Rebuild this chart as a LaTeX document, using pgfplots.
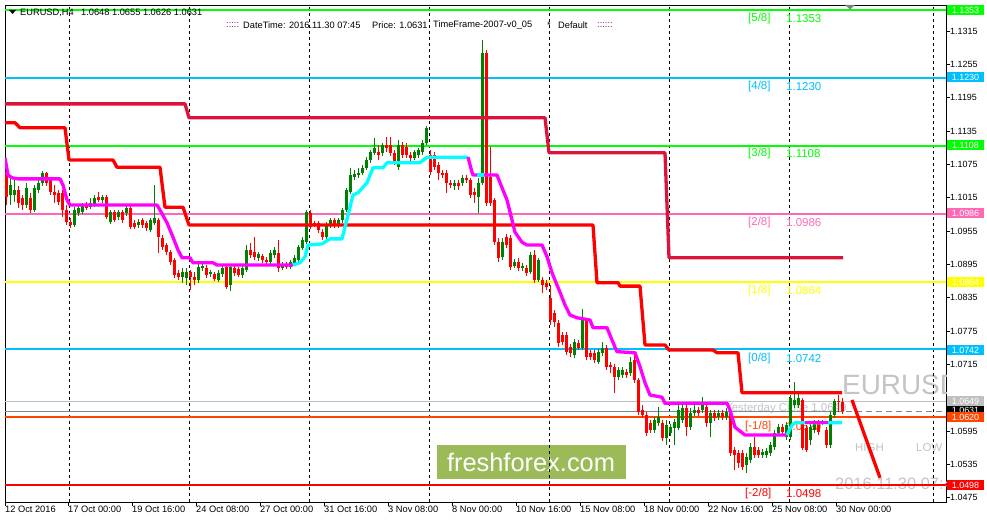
\documentclass[border=0pt]{standalone}
\usepackage{fontspec}
\setmainfont{Liberation Sans}
\usepackage{pgfplots}
\usepackage{pgfplotstable}
\pgfplotsset{compat=1.18}

\definecolor{lvlgreen}{HTML}{00FF00}
\definecolor{lvlblue}{HTML}{00BFFF}
\definecolor{lvlpink}{HTML}{FF69B4}
\definecolor{lvlyellow}{HTML}{FFFF00}
\definecolor{lvlorange}{HTML}{FF4500}
\definecolor{lvlred}{HTML}{FF0000}
\definecolor{crimson}{HTML}{DC143C}
\definecolor{upgreen}{HTML}{008000}
\definecolor{downred}{HTML}{FF0000}
\definecolor{trmag}{HTML}{FF00FF}
\definecolor{trcyan}{HTML}{00FFFF}
\definecolor{ycgray}{HTML}{C0C0C0}
\definecolor{slate}{HTML}{778899}
\definecolor{wmgray}{HTML}{C4C4C4}
\definecolor{logo}{HTML}{9BBB59}
\definecolor{dots}{HTML}{800080}

\newcommand\fs[1]{\fontsize{#1}{#1}\selectfont}

% EURUSD H4 bars: index, open, high, low, close
\pgfplotstableread{
k o h l c
0 1.1061 1.1074 1.1002 1.1016
1 1.1020 1.1051 1.1002 1.1038
2 1.1020 1.1047 1.1007 1.1029
3 1.1029 1.1036 1.0997 1.1006
4 1.1015 1.1020 1.0993 1.1002
5 1.1002 1.1042 1.0997 1.1033
6 1.1015 1.1024 1.0988 1.0993
7 1.0993 1.1038 1.0989 1.1033
8 1.1029 1.1047 1.1024 1.1042
9 1.1042 1.1063 1.1036 1.1060
10 1.1060 1.1061 1.1036 1.1042
11 1.1047 1.1051 1.1020 1.1025
12 1.1025 1.1038 1.1006 1.1020
13 1.1024 1.1029 1.1002 1.1007
14 1.1024 1.1029 1.0980 1.0993
15 1.0993 1.1002 1.0966 1.0971
16 1.0971 1.0979 1.0961 1.0966
17 1.0966 1.0998 1.0962 1.0993
18 1.0988 1.1002 1.0982 1.0997
19 1.0989 1.1006 1.0986 1.1002
20 1.1004 1.1007 1.0993 1.0997
21 1.0998 1.1015 1.0995 1.1006
22 1.1002 1.1020 1.0998 1.1015
23 1.1016 1.1025 1.1007 1.1011
24 1.1011 1.1020 1.1006 1.1016
25 1.1016 1.1020 1.0977 1.0980
26 1.0971 1.0993 1.0968 1.0989
27 1.0989 1.0993 1.0971 1.0975
28 1.0980 1.0993 1.0975 1.0989
29 1.0989 1.0993 1.0970 1.0975
30 1.0988 1.1000 1.0982 1.0997
31 1.0997 1.1000 1.0959 1.0962
32 1.0970 1.0975 1.0959 1.0962
33 1.0966 1.0977 1.0961 1.0971
34 1.0975 1.0979 1.0961 1.0966
35 1.0970 1.0973 1.0955 1.0961
36 1.0957 1.0979 1.0953 1.0975
37 1.0970 1.1038 1.0966 1.0979
38 1.0975 1.0979 1.0916 1.0944
39 1.0943 1.0948 1.0921 1.0927
40 1.0930 1.0934 1.0912 1.0917
41 1.0917 1.0921 1.0894 1.0899
42 1.0903 1.0907 1.0871 1.0876
43 1.0880 1.0885 1.0867 1.0873
44 1.0873 1.0889 1.0862 1.0881
45 1.0871 1.0889 1.0858 1.0881
46 1.0881 1.0885 1.0849 1.0873
47 1.0873 1.0881 1.0858 1.0867
48 1.0867 1.0898 1.0862 1.0891
49 1.0889 1.0898 1.0883 1.0892
50 1.0889 1.0894 1.0871 1.0876
51 1.0878 1.0885 1.0873 1.0881
52 1.0878 1.0881 1.0865 1.0869
53 1.0867 1.0885 1.0863 1.0880
54 1.0878 1.0894 1.0873 1.0889
55 1.0891 1.0894 1.0851 1.0855
56 1.0858 1.0894 1.0847 1.0891
57 1.0889 1.0894 1.0874 1.0880
58 1.0887 1.0891 1.0873 1.0876
59 1.0876 1.0894 1.0871 1.0889
60 1.0885 1.0930 1.0881 1.0921
61 1.0921 1.0934 1.0907 1.0912
62 1.0917 1.0944 1.0903 1.0909
63 1.0907 1.0917 1.0901 1.0914
64 1.0910 1.0914 1.0898 1.0903
65 1.0903 1.0909 1.0896 1.0899
66 1.0899 1.0921 1.0896 1.0916
67 1.0912 1.0927 1.0907 1.0921
68 1.0916 1.0939 1.0881 1.0889
69 1.0889 1.0899 1.0885 1.0894
70 1.0894 1.0899 1.0887 1.0891
71 1.0891 1.0903 1.0887 1.0899
72 1.0898 1.0912 1.0892 1.0907
73 1.0903 1.0930 1.0899 1.0927
74 1.0925 1.0944 1.0921 1.0939
75 1.0935 1.0993 1.0932 1.0989
76 1.0988 1.0993 1.0959 1.0962
77 1.0970 1.0973 1.0962 1.0966
78 1.0970 1.0973 1.0952 1.0957
79 1.0953 1.0959 1.0939 1.0944
80 1.0944 1.0971 1.0941 1.0966
81 1.0966 1.0979 1.0961 1.0975
82 1.0975 1.0979 1.0961 1.0964
83 1.0966 1.0979 1.0961 1.0975
84 1.0975 1.0997 1.0970 1.0993
85 1.0993 1.1033 1.0989 1.1029
86 1.1025 1.1069 1.1022 1.1056
87 1.1052 1.1065 1.1047 1.1058
88 1.1056 1.1069 1.1051 1.1060
89 1.1060 1.1074 1.1056 1.1069
90 1.1069 1.1088 1.1065 1.1083
91 1.1083 1.1101 1.1078 1.1097
92 1.1096 1.1123 1.1092 1.1105
93 1.1097 1.1110 1.1083 1.1092
94 1.1096 1.1114 1.1090 1.1110
95 1.1110 1.1124 1.1097 1.1105
96 1.1110 1.1124 1.1090 1.1096
97 1.1096 1.1101 1.1074 1.1079
98 1.1070 1.1119 1.1065 1.1110
99 1.1110 1.1115 1.1087 1.1092
100 1.1106 1.1114 1.1087 1.1092
101 1.1092 1.1097 1.1081 1.1087
102 1.1087 1.1101 1.1083 1.1097
103 1.1092 1.1105 1.1087 1.1101
104 1.1097 1.1119 1.1092 1.1114
105 1.1114 1.1144 1.1110 1.1141
106 1.1092 1.1101 1.1056 1.1061
107 1.1092 1.1097 1.1065 1.1070
108 1.1074 1.1079 1.1047 1.1060
109 1.1060 1.1065 1.1051 1.1056
110 1.1060 1.1065 1.1024 1.1042
111 1.1042 1.1047 1.1033 1.1038
112 1.1036 1.1047 1.1029 1.1042
113 1.1042 1.1047 1.1029 1.1036
114 1.1042 1.1056 1.1036 1.1051
115 1.1051 1.1056 1.1042 1.1047
116 1.1047 1.1051 1.1015 1.1020
117 1.1025 1.1033 1.1006 1.1020
118 1.1016 1.1051 1.0988 1.1042
119 1.1042 1.1299 1.1038 1.1276
120 1.1276 1.1281 1.1000 1.1006
121 1.1052 1.1106 1.1000 1.1006
122 1.1011 1.1015 1.0930 1.0935
123 1.0935 1.0943 1.0899 1.0907
124 1.0909 1.0943 1.0903 1.0935
125 1.0944 1.0950 1.0925 1.0930
126 1.0943 1.0948 1.0885 1.0891
127 1.0892 1.0905 1.0889 1.0899
128 1.0899 1.0907 1.0883 1.0889
129 1.0889 1.0898 1.0883 1.0892
130 1.0889 1.0894 1.0874 1.0880
131 1.0881 1.0917 1.0878 1.0912
132 1.0912 1.0921 1.0862 1.0867
133 1.0867 1.0907 1.0863 1.0903
134 1.0867 1.0873 1.0844 1.0858
135 1.0862 1.0867 1.0849 1.0855
136 1.0835 1.0858 1.0786 1.0795
137 1.0808 1.0813 1.0782 1.0791
138 1.0790 1.0795 1.0746 1.0754
139 1.0768 1.0773 1.0750 1.0755
140 1.0768 1.0773 1.0732 1.0738
141 1.0746 1.0752 1.0728 1.0736
142 1.0732 1.0761 1.0727 1.0755
143 1.0754 1.0759 1.0741 1.0745
144 1.0745 1.0815 1.0741 1.0795
145 1.0795 1.0799 1.0723 1.0728
146 1.0736 1.0741 1.0723 1.0728
147 1.0736 1.0741 1.0718 1.0723
148 1.0719 1.0743 1.0716 1.0738
149 1.0736 1.0755 1.0730 1.0745
150 1.0745 1.0750 1.0705 1.0711
151 1.0714 1.0719 1.0700 1.0711
152 1.0711 1.0716 1.0664 1.0693
153 1.0693 1.0711 1.0687 1.0705
154 1.0696 1.0711 1.0691 1.0705
155 1.0701 1.0707 1.0691 1.0696
156 1.0700 1.0728 1.0694 1.0719
157 1.0723 1.0732 1.0682 1.0687
158 1.0687 1.0691 1.0624 1.0629
159 1.0633 1.0642 1.0619 1.0624
160 1.0624 1.0629 1.0586 1.0592
161 1.0610 1.0615 1.0592 1.0597
162 1.0597 1.0620 1.0592 1.0615
163 1.0610 1.0638 1.0604 1.0620
164 1.0610 1.0615 1.0577 1.0583
165 1.0583 1.0615 1.0570 1.0606
166 1.0592 1.0608 1.0586 1.0602
167 1.0601 1.0617 1.0570 1.0611
168 1.0601 1.0642 1.0597 1.0633
169 1.0615 1.0642 1.0610 1.0637
170 1.0637 1.0642 1.0586 1.0602
171 1.0602 1.0637 1.0597 1.0627
172 1.0627 1.0642 1.0622 1.0633
173 1.0633 1.0638 1.0622 1.0627
174 1.0633 1.0656 1.0627 1.0645
175 1.0638 1.0644 1.0602 1.0610
176 1.0610 1.0633 1.0584 1.0627
177 1.0627 1.0633 1.0613 1.0619
178 1.0620 1.0633 1.0615 1.0627
179 1.0627 1.0633 1.0615 1.0620
180 1.0620 1.0637 1.0615 1.0629
181 1.0627 1.0633 1.0550 1.0556
182 1.0561 1.0567 1.0525 1.0552
183 1.0556 1.0561 1.0529 1.0538
184 1.0556 1.0561 1.0525 1.0531
185 1.0534 1.0556 1.0520 1.0548
186 1.0543 1.0574 1.0538 1.0567
187 1.0567 1.0584 1.0547 1.0552
188 1.0561 1.0567 1.0547 1.0552
189 1.0552 1.0563 1.0547 1.0557
190 1.0552 1.0565 1.0547 1.0559
191 1.0556 1.0575 1.0550 1.0570
192 1.0567 1.0597 1.0561 1.0592
193 1.0592 1.0608 1.0586 1.0602
194 1.0602 1.0608 1.0588 1.0593
195 1.0584 1.0611 1.0579 1.0606
196 1.0584 1.0660 1.0579 1.0655
197 1.0642 1.0683 1.0637 1.0651
198 1.0642 1.0664 1.0637 1.0655
199 1.0651 1.0655 1.0561 1.0565
200 1.0601 1.0606 1.0557 1.0561
201 1.0579 1.0610 1.0570 1.0602
202 1.0597 1.0615 1.0592 1.0610
203 1.0610 1.0615 1.0588 1.0593
204 1.0610 1.0615 1.0606 1.0611
205 1.0597 1.0602 1.0565 1.0570
206 1.0570 1.0629 1.0565 1.0624
207 1.0624 1.0653 1.0619 1.0649
208 1.0650 1.0660 1.0630 1.0648
209 1.0648 1.0655 1.0626 1.0631
}\candles

\begin{document}
\begin{tikzpicture}
\useasboundingbox (0,0) rectangle (987bp,525bp);
\fill[white] (0,0) rectangle (987bp,525bp);

\begin{axis}[
  at={(5bp,23bp)}, anchor=south west,
  scale only axis, width=941bp, height=497bp,
  xmin=-0.3, xmax=234.95, ymin=1.04674, ymax=1.1362,
  axis line style={black, line width=0.8bp},
  tick align=outside, major tick length=4bp,
  tick style={black, line width=0.6bp},
  xtick pos=left, ytick pos=right, yticklabel pos=right,
  scaled y ticks=false, scaled x ticks=false,
  xtick={-0.3,15.45,31.45,47.45,63.45,79.45,95.45,111.45,127.45,143.45,159.45,175.45,191.45,207.45},
  xticklabels={12 Oct 2016,17 Oct 00:00,19 Oct 16:00,24 Oct 08:00,27 Oct 00:00,31 Oct 16:00,3 Nov 08:00,8 Nov 00:00,10 Nov 16:00,15 Nov 08:00,18 Nov 00:00,22 Nov 16:00,25 Nov 08:00,30 Nov 00:00},
  xticklabel style={anchor=north west, inner sep=0pt, font=\fs{9.3}},
  ytick={1.0475,1.0535,1.0595,1.0655,1.0715,1.0775,1.0835,1.0895,1.0955,1.1015,1.1075,1.1135,1.1195,1.1255,1.1315},
  yticklabels={1.0475,1.0535,1.0595,{},1.0715,1.0775,1.0835,1.0895,1.0955,1.1015,1.1075,1.1135,1.1195,1.1255,1.1315},
  yticklabel style={anchor=west, inner sep=0pt, font=\fs{9}},
]

% logo and watermark texts (behind the bars)
\fill[logo] (axis cs:107.7,1.0570) rectangle (axis cs:154.95,1.0509);
\node[white, font=\fs{25.5}, inner sep=0pt] at (axis cs:131.2,1.0539) {freshforex.com};
\node[wmgray, font=\fs{28}, anchor=west, inner sep=0pt] at (axis cs:208.95,1.0678) {EURUSD};
\node[wmgray, font=\fs{11.5}, anchor=west, inner sep=0pt] at (axis cs:212.2,1.0566) {HIGH};
\node[wmgray, font=\fs{11.5}, anchor=west, inner sep=0pt] at (axis cs:227.45,1.0566) {LOW};
\node[wmgray, font=\fs{16.5}, anchor=west, inner sep=0pt] at (axis cs:207.2,1.0500) {2016.11.30 07:45};
\node[wmgray, font=\fs{11.5}, anchor=west, inner sep=0pt] at (axis cs:179.7,1.0635) {Yesterday Close 1.0649};

% weekly separators
\pgfplotsinvokeforeach{15.7,45.7,75.7,105.7,135.7,165.7,195.7,231.7}{
  \addplot[black, line width=0.8bp, dash pattern=on 3bp off 3bp, forget plot]
    coordinates {(#1,1.04674) (#1,1.1362)};
}

% Murrey levels
\addplot[lvlgreen, line width=2bp, forget plot] coordinates {(-0.3,1.1353) (234.95,1.1353)};
\addplot[lvlblue, line width=2bp, forget plot] coordinates {(-0.3,1.1230) (234.95,1.1230)};
\addplot[lvlgreen, line width=2bp, forget plot] coordinates {(-0.3,1.1108) (234.95,1.1108)};
\addplot[lvlpink, line width=2bp, forget plot] coordinates {(-0.3,1.0986) (234.95,1.0986)};
\addplot[lvlyellow, line width=2bp, forget plot] coordinates {(-0.3,1.0864) (234.95,1.0864)};
\addplot[lvlblue, line width=2bp, forget plot] coordinates {(-0.3,1.0742) (234.95,1.0742)};
\addplot[lvlorange, line width=2bp, forget plot] coordinates {(-0.3,1.0620) (234.95,1.0620)};
\addplot[lvlred, line width=2bp, forget plot] coordinates {(-0.3,1.0498) (234.95,1.0498)};
\addplot[ycgray, line width=1bp, forget plot] coordinates {(-0.3,1.0649) (234.95,1.0649)};
\addplot[slate, line width=1bp, forget plot] coordinates {(-0.3,1.0631) (209.5,1.0631)};
\addplot[slate, line width=1bp, dash pattern=on 6bp off 4bp, forget plot] coordinates {(210,1.0631) (234.95,1.0631)};

\node[lvlgreen, font=\fs{11.5}, anchor=west, inner sep=0pt] at (axis cs:185.45,1.1338) {[5/8]};
\node[lvlgreen, font=\fs{11.5}, anchor=west, inner sep=0pt] at (axis cs:194.95,1.1338) {1.1353};
\node[lvlblue, font=\fs{11.5}, anchor=west, inner sep=0pt] at (axis cs:185.45,1.1216) {[4/8]};
\node[lvlblue, font=\fs{11.5}, anchor=west, inner sep=0pt] at (axis cs:194.95,1.1216) {1.1230};
\node[lvlgreen, font=\fs{11.5}, anchor=west, inner sep=0pt] at (axis cs:185.45,1.1094) {[3/8]};
\node[lvlgreen, font=\fs{11.5}, anchor=west, inner sep=0pt] at (axis cs:194.95,1.1094) {1.1108};
\node[lvlpink, font=\fs{11.5}, anchor=west, inner sep=0pt] at (axis cs:185.45,1.0971) {[2/8]};
\node[lvlpink, font=\fs{11.5}, anchor=west, inner sep=0pt] at (axis cs:194.95,1.0971) {1.0986};
\node[lvlyellow, font=\fs{11.5}, anchor=west, inner sep=0pt] at (axis cs:185.45,1.0848) {[1/8]};
\node[lvlyellow, font=\fs{11.5}, anchor=west, inner sep=0pt] at (axis cs:194.95,1.0848) {1.0864};
\node[lvlblue, font=\fs{11.5}, anchor=west, inner sep=0pt] at (axis cs:185.45,1.0726) {[0/8]};
\node[lvlblue, font=\fs{11.5}, anchor=west, inner sep=0pt] at (axis cs:194.95,1.0726) {1.0742};
\node[lvlorange, font=\fs{11.5}, anchor=west, inner sep=0pt] at (axis cs:184.7,1.0604) {[-1/8]};
\node[lvlorange, font=\fs{11.5}, anchor=west, inner sep=0pt] at (axis cs:194.95,1.0604) {1.0620};
\node[lvlred, font=\fs{11.5}, anchor=west, inner sep=0pt] at (axis cs:184.7,1.0483) {[-2/8]};
\node[lvlred, font=\fs{11.5}, anchor=west, inner sep=0pt] at (axis cs:194.95,1.0483) {1.0498};

% candles: wicks then bodies
\addplot[draw=none, mark=none, forget plot,
  restrict expr to domain={\thisrow{c}-\thisrow{o}}{0:1},
  error bars/.cd, y dir=both, y explicit, error mark=none,
  error bar style={draw=upgreen, line width=1bp}]
  table[x=k, y expr={(\thisrow{h}+\thisrow{l})/2}, y error expr={(\thisrow{h}-\thisrow{l})/2}] {\candles};
\addplot[draw=none, mark=none, forget plot,
  restrict expr to domain={\thisrow{c}-\thisrow{o}}{-1:-0.00001},
  error bars/.cd, y dir=both, y explicit, error mark=none,
  error bar style={draw=downred, line width=1bp}]
  table[x=k, y expr={(\thisrow{h}+\thisrow{l})/2}, y error expr={(\thisrow{h}-\thisrow{l})/2}] {\candles};
\addplot[draw=none, mark=none, forget plot,
  restrict expr to domain={\thisrow{c}-\thisrow{o}}{0:1},
  error bars/.cd, y dir=both, y explicit, error mark=none,
  error bar style={draw=upgreen, line width=3bp}]
  table[x=k, y expr={(\thisrow{o}+\thisrow{c})/2}, y error expr={max(abs(\thisrow{c}-\thisrow{o})/2,0.00009)}] {\candles};
\addplot[draw=none, mark=none, forget plot,
  restrict expr to domain={\thisrow{c}-\thisrow{o}}{-1:-0.00001},
  error bars/.cd, y dir=both, y explicit, error mark=none,
  error bar style={draw=downred, line width=3bp}]
  table[x=k, y expr={(\thisrow{o}+\thisrow{c})/2}, y error expr={max(abs(\thisrow{c}-\thisrow{o})/2,0.00009)}] {\candles};

% step channels
\addplot[crimson, line width=3.3bp, line join=round, forget plot] coordinates {
(-0.3,1.1184) (44.7,1.1184) (45.7,1.1159) (134.7,1.1159) (135.7,1.1096)
(164.7,1.1096) (165.7,1.0907) (209.2,1.0907)};
\addplot[downred, line width=3.3bp, line join=round, forget plot] coordinates {
(-0.3,1.1150) (2.2,1.1150) (3.45,1.1141) (14.7,1.1141) (15.7,1.1083)
(26.7,1.1083) (27.7,1.1070) (38.45,1.1070) (39.7,1.0998) (44.2,1.0998)
(45.7,1.0966) (146.7,1.0966) (147.7,1.0862) (153,1.0862) (153.45,1.0856)
(158.45,1.0856) (159.7,1.0750) (164.7,1.0750) (165.7,1.0741) (176.7,1.0741)
(177.7,1.0736) (182.95,1.0736) (183.95,1.0664) (208.95,1.0664)};
\addplot[downred, line width=3.3bp, forget plot] coordinates {(211.45,1.0651) (218.45,1.0511)};

% trend line, magenta down / cyan up
\addplot[trmag, line width=3.3bp, line join=round, forget plot] coordinates {
(-0.3,1.1087) (0.45,1.1056) (1.45,1.1051) (2.95,1.1049) (13.45,1.1049)
(14.2,1.1038) (15.2,1.1011) (15.95,1.1002) (37.7,1.1002) (38.45,1.0993)
(40.2,1.0970) (41.7,1.0944) (42.95,1.0921) (43.95,1.0907) (45.95,1.0907)
(46.7,1.0898) (51.7,1.0898) (52.7,1.0894) (71.7,1.0894)};
\addplot[trcyan, line width=3.3bp, line join=round, forget plot] coordinates {
(71.7,1.0894) (73.45,1.0898) (74.7,1.0909) (75.45,1.0930) (78.95,1.0932)
(80.95,1.0941) (83.95,1.0941) (84.7,1.0962) (85.95,1.0998) (86.7,1.1020)
(87.95,1.1024) (90.2,1.1042) (90.95,1.1056) (91.7,1.1069) (94.2,1.1069)
(95.2,1.1078) (103.45,1.1078) (105.2,1.1088) (115.45,1.1088)};
\addplot[trmag, line width=3.3bp, line join=round, forget plot] coordinates {
(115.45,1.1088) (116.45,1.1061) (116.7,1.1056) (122.7,1.1056) (123.45,1.1042)
(125.2,1.1011) (126.45,1.0975) (127.2,1.0953) (128.95,1.0935) (130.2,1.0930)
(133.95,1.0930) (135.2,1.0909) (136.45,1.0880) (137.7,1.0858) (138.45,1.0845)
(139.7,1.0822) (140.95,1.0804) (142.7,1.0799) (145.95,1.0795) (146.7,1.0781)
(150.2,1.0781) (152.2,1.0746) (152.7,1.0738) (157.2,1.0736) (158.45,1.0711)
(159.7,1.0682) (160.95,1.0660) (163.95,1.0656) (164.7,1.0645) (180.2,1.0645)
(180.95,1.0633) (182.2,1.0602) (184.7,1.0588) (195.2,1.0588)};
\addplot[trcyan, line width=3.3bp, forget plot] coordinates {(117.7,1.1056) (119.45,1.1056)};
\addplot[trcyan, line width=3.3bp, line join=round, forget plot] coordinates {
(195.2,1.0588) (196.45,1.0606) (197.2,1.0610) (208.95,1.0610)};
\addplot[trmag, line width=3.3bp, forget plot] coordinates {(199.7,1.0610) (205.45,1.0610)};
\end{axis}

% price boxes on the right scale
\newcommand\pbox[3]{%
  \fill[#1] (947bp,#2bp) ++(0,-5bp) rectangle ++(37bp,10bp);
  \node[white, font=\fs{9}, inner sep=0pt] at (965.5bp,#2bp) {#3};}
\pbox{lvlgreen}{515}{1.1353}
\pbox{lvlblue}{448}{1.1230}
\pbox{lvlgreen}{380}{1.1108}
\pbox{lvlpink}{312}{1.0986}
\pbox{lvlyellow}{243}{1.0864}
\pbox{lvlblue}{175}{1.0742}
\pbox{black}{115}{1.0631}
\pbox{ycgray}{123.5}{1.0649}
\pbox{lvlorange}{107.5}{1.0620}
\pbox{lvlred}{40}{1.0498}

% header
\fill[black] (9bp,515bp) -- (16bp,515bp) -- (12.5bp,511bp) -- cycle;
\fill[gray] (845bp,520bp) -- (855bp,520bp) -- (850bp,515.5bp) -- cycle;
\node[anchor=west, inner sep=0pt, font=\fs{9.3}] at (20bp,512.5bp) {EURUSD,H4};
\node[anchor=west, inner sep=0pt, font=\fs{9.3}] at (81bp,512.5bp) {1.0648 1.0655 1.0626 1.0631};
\node[anchor=west, inner sep=0pt, font=\fs{9.3}, dots] at (226bp,499.5bp) {:::::};
\node[anchor=west, inner sep=0pt, font=\fs{9.3}] at (243bp,499.5bp) {DateTime: 2016.11.30 07:45};
\node[anchor=west, inner sep=0pt, font=\fs{9.3}] at (372bp,499.5bp) {Price: 1.0631};
\node[anchor=west, inner sep=0pt, font=\fs{9.3}] at (433bp,499.5bp) {TimeFrame-2007-v0\_05};
\node[anchor=west, inner sep=0pt, font=\fs{9.3}] at (547bp,499.5bp) {*};
\node[anchor=west, inner sep=0pt, font=\fs{9.3}] at (558bp,499.5bp) {Default};
\node[anchor=west, inner sep=0pt, font=\fs{9.3}, dots] at (597bp,499.5bp) {::::::};
\end{tikzpicture}
\end{document}
